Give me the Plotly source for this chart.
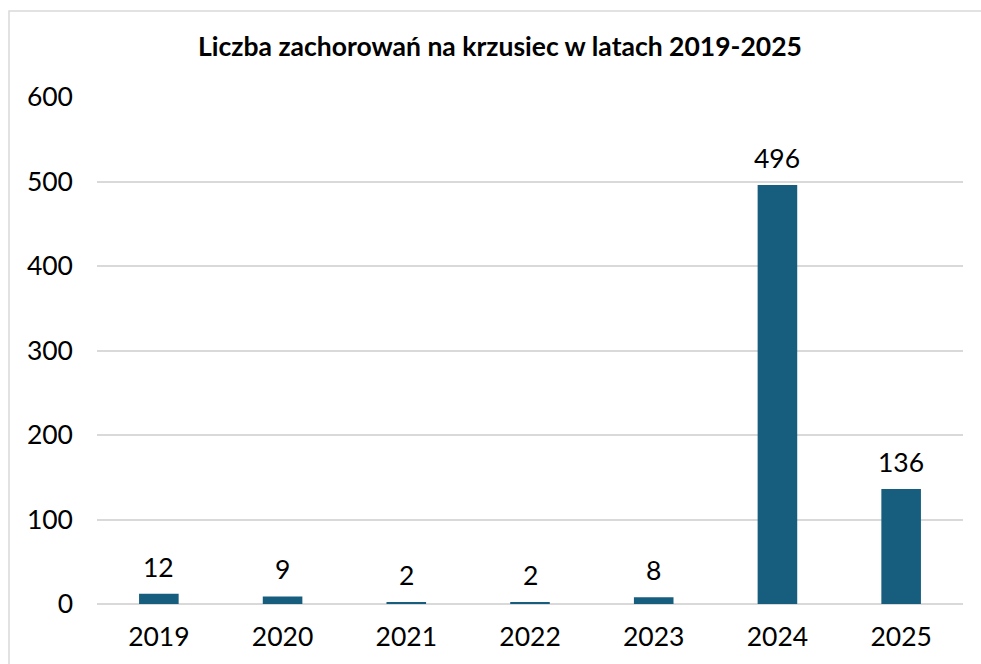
import plotly.graph_objects as go

years = ["2019", "2020", "2021", "2022", "2023", "2024", "2025"]
cases = [12, 9, 2, 2, 8, 496, 136]
title_text = "Liczba zachorowań na krzusiec w latach 2019-2025"
y_ticks = [0, 100, 200, 300, 400, 500, 600]

BAR = "#175e7e"
GRID = "#d9d9d9"
FONT = "Lato, 'Open Sans', sans-serif"

fig = go.Figure()
fig.add_trace(go.Bar(x=years, y=cases, marker=dict(color=BAR, line=dict(width=0)),
                     hoverinfo="x+y"))

for i, v in enumerate(cases):
    fig.add_annotation(x=i, y=v, text=str(v), showarrow=False, yanchor="bottom",
                       yshift=9, font=dict(family=FONT, size=26.5, color="#000000"))

W, H = 981, 664
L, R, T, B = 97, 18, 97, 60
fig.add_shape(type="rect", xref="paper", yref="paper",
              x0=(9 - L) / (W - L - R), x1=(W + 20 - L) / (W - L - R),
              y0=-(B + 20) / (H - T - B), y1=(H - 11 - B) / (H - T - B),
              line=dict(color=GRID, width=1.5), fillcolor="rgba(0,0,0,0)", layer="below")

fig.update_layout(
    width=W, height=H,
    margin=dict(l=L, r=R, t=T, b=B, autoexpand=False),
    paper_bgcolor="white", plot_bgcolor="white",
    font=dict(family=FONT, size=26.5, color="#000000"),
    title=dict(text="<b>" + title_text + "</b>", x=500 / W, xanchor="center",
               xref="paper" if False else "container",
               y=1 - 47 / H, yanchor="middle",
               font=dict(family=FONT, size=26.5, color="#000000")),
    bargap=0.68,
    showlegend=False,
    xaxis=dict(type="category", range=[-0.5, len(years) - 0.5], showgrid=False,
               showline=False, ticks="", ticklabelstandoff=14, tickfont=dict(size=26.5)),
    yaxis=dict(range=[0, 600], tickvals=y_ticks, showgrid=True, gridcolor=GRID,
               gridwidth=1.5, zeroline=True, zerolinecolor=GRID, zerolinewidth=1.5,
               showline=False, ticks="", ticklabelstandoff=23, tickfont=dict(size=26.5)),
)

fig.write_html("out.html", config={"displayModeBar": False},
               post_script="document.body.style.margin='0';document.body.style.overflow='hidden';")
